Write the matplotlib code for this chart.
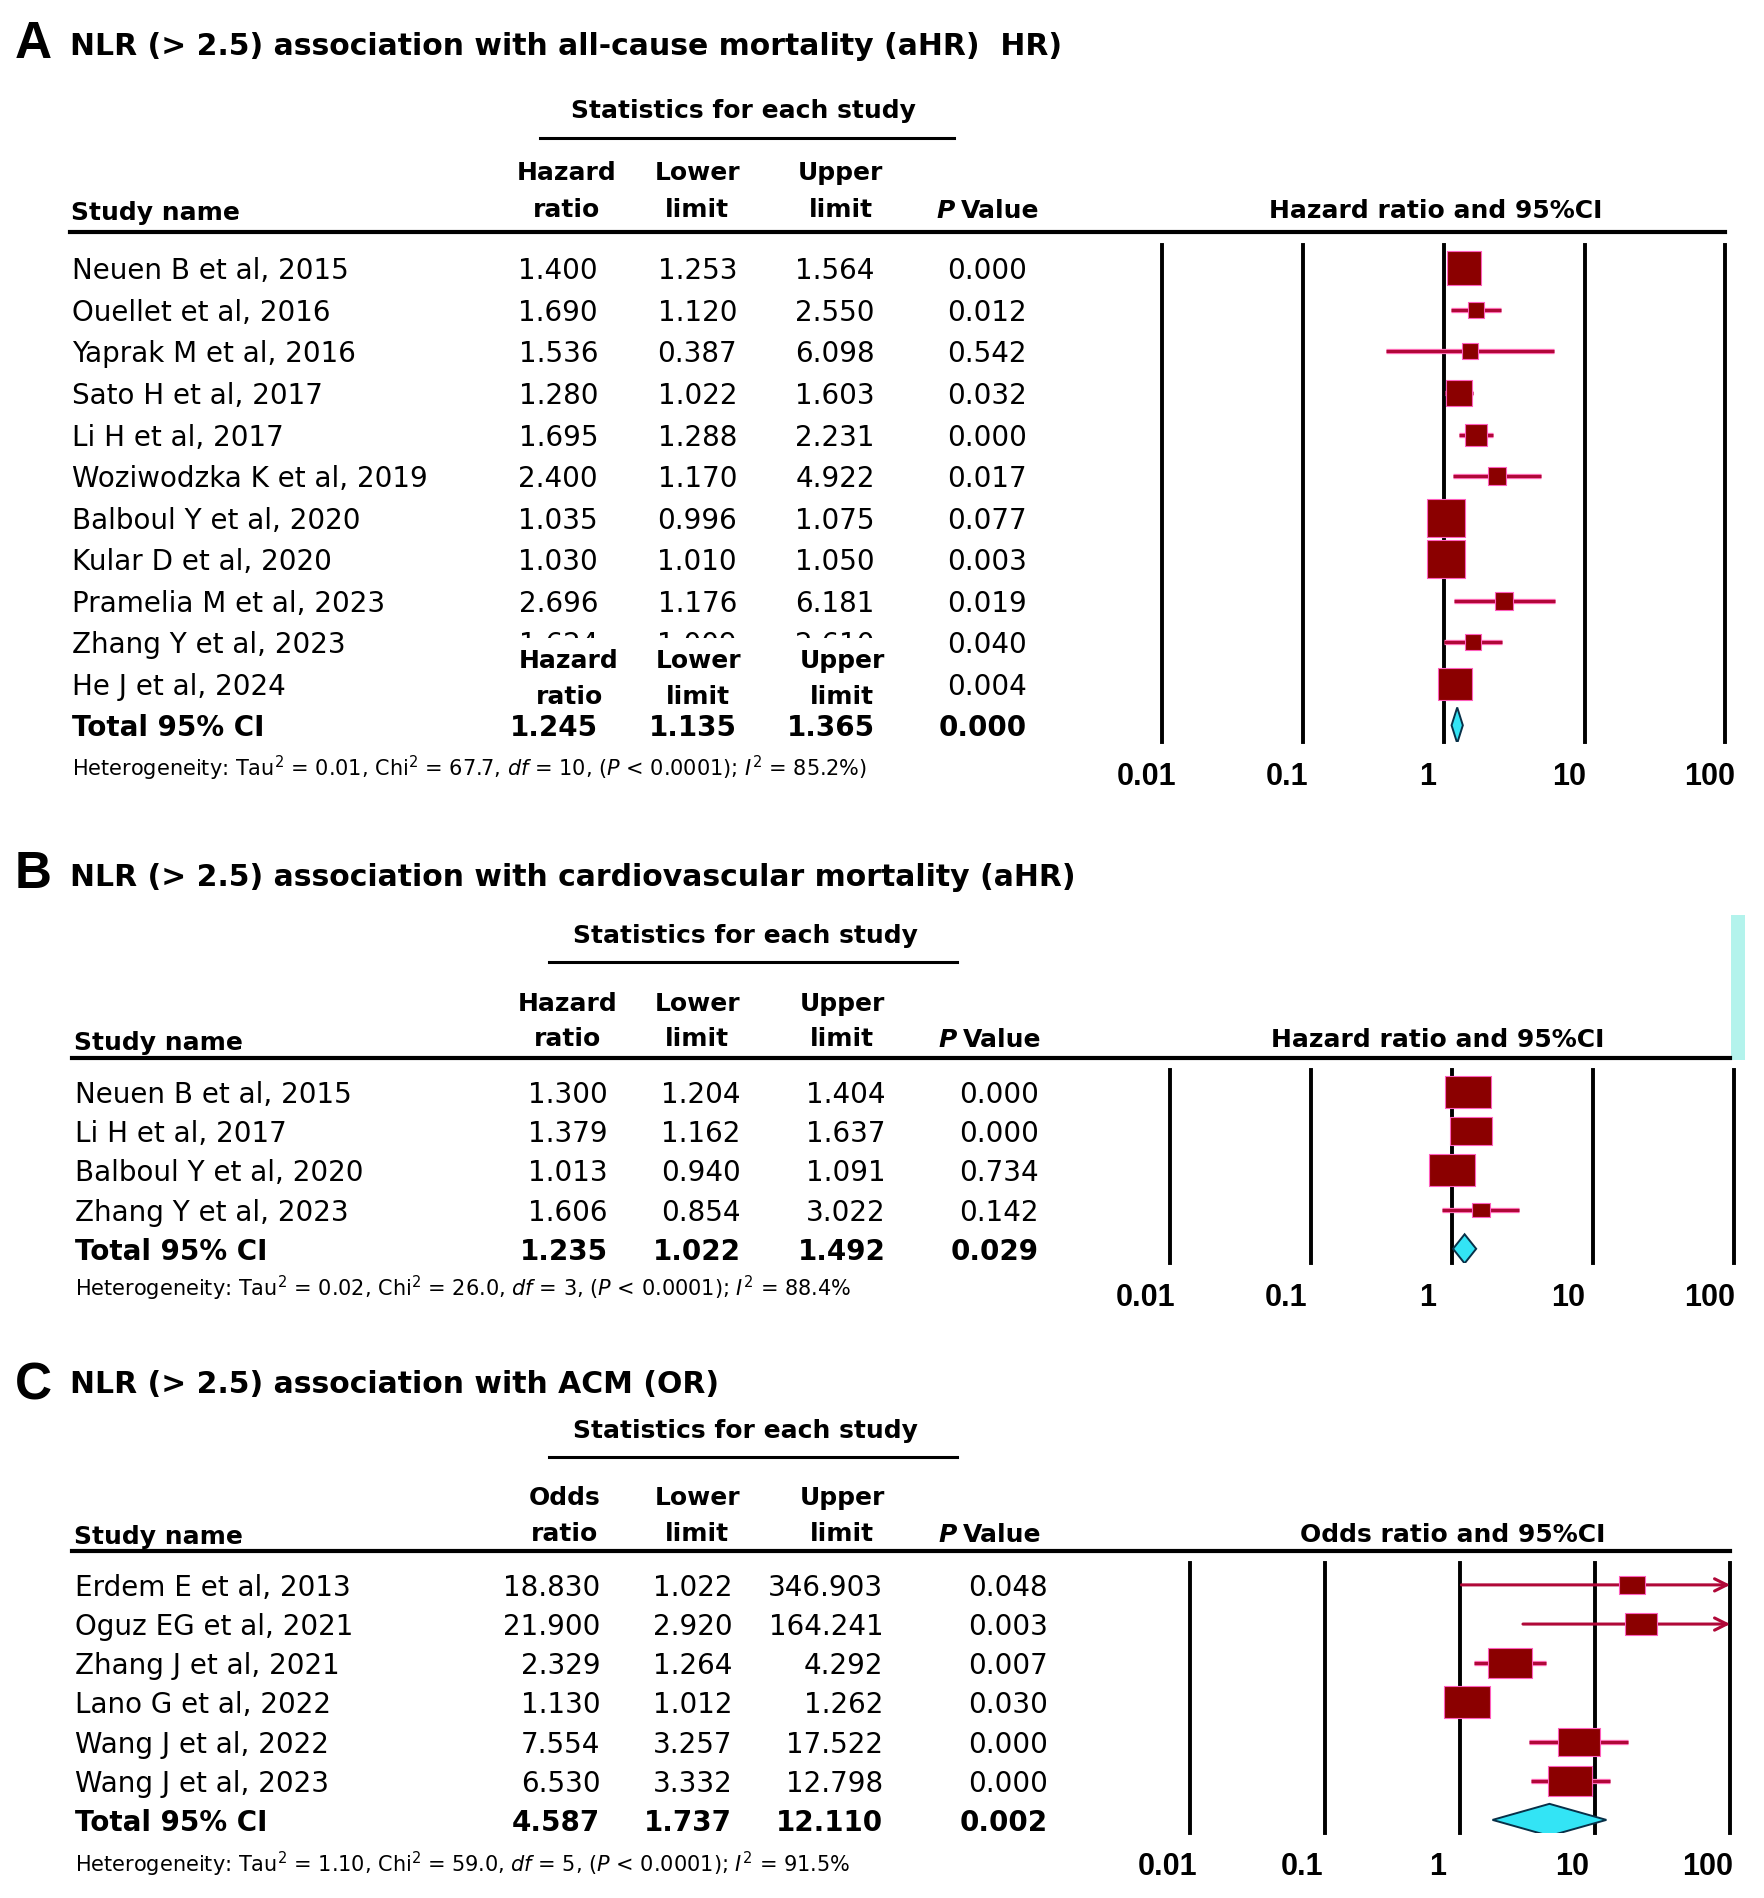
import matplotlib
matplotlib.use("Agg")
import matplotlib.pyplot as plt
import matplotlib.patheffects as pe
from matplotlib.patches import Polygon, Rectangle
from matplotlib.transforms import ScaledTranslation

plt.rcParams['font.family'] = ['DejaVu Sans']
plt.rcParams['mathtext.fontset'] = 'dejavusans'

# -----------------------------
# Data
# -----------------------------
a_names = ["Neuen B et al, 2015", "Ouellet et al, 2016", "Yaprak M et al, 2016",
           "Sato H et al, 2017", "Li H et al, 2017", "Woziwodzka K et al, 2019",
           "Balboul Y et al, 2020", "Kular D et al, 2020", "Pramelia M et al, 2023",
           "Zhang Y et al, 2023", "He J et al, 2024"]
a_est = [1.400, 1.690, 1.536, 1.280, 1.695, 2.400, 1.035, 1.030, 2.696, 1.624, 1.210]
a_low = [1.253, 1.120, 0.387, 1.022, 1.288, 1.170, 0.996, 1.010, 1.176, 1.009, 1.063]
a_up = [1.564, 2.550, 6.098, 1.603, 2.231, 4.922, 1.075, 1.050, 6.181, 2.610, 1.378]
a_p = ["0.000", "0.012", "0.542", "0.032", "0.000", "0.017", "0.077", "0.003",
       "0.019", "0.040", "0.004"]
a_total = [1.245, 1.135, 1.365]
a_total_p = "0.000"

b_names = ["Neuen B et al, 2015", "Li H et al, 2017", "Balboul Y et al, 2020",
           "Zhang Y et al, 2023"]
b_est = [1.300, 1.379, 1.013, 1.606]
b_low = [1.204, 1.162, 0.940, 0.854]
b_up = [1.404, 1.637, 1.091, 3.022]
b_p = ["0.000", "0.000", "0.734", "0.142"]
b_total = [1.235, 1.022, 1.492]
b_total_p = "0.029"

c_names = ["Erdem E et al, 2013", "Oguz EG et al, 2021", "Zhang J et al, 2021",
           "Lano G et al, 2022", "Wang J et al, 2022", "Wang J et al, 2023"]
c_est = [18.830, 21.900, 2.329, 1.130, 7.554, 6.530]
c_low = [1.022, 2.920, 1.264, 1.012, 3.257, 3.332]
c_up = [346.903, 164.241, 4.292, 1.262, 17.522, 12.798]
c_p = ["0.048", "0.003", "0.007", "0.030", "0.000", "0.000"]
c_total = [4.587, 1.737, 12.110]
c_total_p = "0.002"

axis_ticks = [0.01, 0.1, 1, 10, 100]
axis_labels = ["0.01", "0.1", "1", "10", "100"]

# box sizes in pixels (width), style only
a_box = [35, 17, 17, 27, 23, 18, 39, 39, 18, 17, 34]
b_box = [46, 42, 47, 19]
c_box = [27, 33, 44, 47, 42, 44]

# -----------------------------
# Figure / layout helpers (layout in reference px 1460 x 1570)
# -----------------------------
W, H = 1460.0, 1570.0
fig = plt.figure(figsize=(17.64, 18.98), dpi=100)
bg = fig.add_axes([0, 0, 1, 1])
bg.set_xlim(0, W)
bg.set_ylim(H, 0)
bg.axis("off")

BOX_FC = "#8b0000"
BOX_EC = "#ff5fbf"
CI_C = "#b00838"
DIA_FC = "#33e4f5"
DIA_EC = "#083048"


def txt(x, y, s, **kw):
    kw.setdefault("va", "center")
    kw.setdefault("fontsize", 20)
    return bg.text(x, y + 2.5, s, **kw)


def rect_marker(aspect):
    return [(-aspect, -1), (aspect, -1), (aspect, 1), (-aspect, 1), (-aspect, -1)]


def forest(x0, x1, ytop, ybot, row0, step, est, low, up, total, box, aspect, dia_h, tick_dx):
    ax = fig.add_axes([x0 / W, 1 - ybot / H, (x1 - x0) / W, (ybot - ytop) / H])
    ax.set_facecolor("none")
    ax.set_xscale("log")
    ax.set_xlim(0.01, 100)
    ax.set_ylim((ybot - row0) / step, (ytop - row0) / step)
    for s in ax.spines.values():
        s.set_visible(False)
    ax.set_yticks([])
    for v in axis_ticks:
        ax.axvline(v, color="black", lw=2.8, clip_on=False, zorder=1)
    ax.set_xticks(axis_ticks, axis_labels)
    ax.minorticks_off()
    ax.tick_params(axis="x", length=0, pad=14)
    off = ScaledTranslation(tick_dx * 1.208 / 100, 0, fig.dpi_scale_trans)
    for lab in ax.get_xticklabels():
        lab.set_fontfamily("Liberation Sans")
        lab.set_fontweight("bold")
        lab.set_fontsize(22)
        lab.set_transform(lab.get_transform() + off)
    stroke = [pe.withStroke(linewidth=3.8, foreground="#ff6fb8")]
    for i in range(len(est)):
        hi = min(up[i], 100)
        if up[i] > 100:
            ax.annotate("", xy=(100, i), xytext=(low[i], i), annotation_clip=False,
                        arrowprops=dict(arrowstyle="->", color=CI_C, lw=2.2,
                                        mutation_scale=22, shrinkA=0, shrinkB=0),
                        zorder=2)
        else:
            ax.plot([low[i], hi], [i, i], color=CI_C, lw=2.2, zorder=2,
                    path_effects=stroke, solid_capstyle="butt")
        ax.plot(est[i], i, marker=rect_marker(aspect), ms=box[i] / 1.389,
                mfc=BOX_FC, mec=BOX_EC, mew=0.8, zorder=3, linestyle="none")
    n = len(est)
    t_est, t_low, t_up = total
    ax.add_patch(Polygon([(t_low, n), (t_est, n - dia_h), (t_up, n), (t_est, n + dia_h)],
                         closed=True, fc=DIA_FC, ec=DIA_EC, lw=1.4, zorder=3))
    return ax


def table(letter, title, ly, ty, stat_y, ul_y, ul_x, hdr_y1, hdr_y2, name_x, line_x,
          line_y, first_word, col_x, p_x, ci_title, ci_x, names, est, low, up, p,
          total, total_p, row0, step, right, het, het_y):
    txt(12, ly, letter, fontsize=37, fontweight="bold", family="Liberation Sans")
    txt(58, ty, title, fontsize=21.5, fontweight="bold")
    txt(stat_y[0], stat_y[1], "Statistics for each study", fontsize=18,
        fontweight="bold", ha="center")
    bg.plot(ul_x, [ul_y, ul_y], color="black", lw=2.2)
    for cx, w1, w2 in zip(col_x, [first_word, "Lower", "Upper"],
                          ["ratio", "limit", "limit"]):
        txt(cx, hdr_y1, w1, fontsize=18, fontweight="bold", ha="center")
        txt(cx, hdr_y2, w2, fontsize=18, fontweight="bold", ha="center")
    txt(p_x, hdr_y2 + 1, "P", fontsize=18, fontweight="bold", style="italic")
    txt(p_x + 20, hdr_y2 + 1, "Value", fontsize=18, fontweight="bold")
    txt(name_x, hdr_y2 + 3, "Study name", fontsize=18, fontweight="bold")
    txt(ci_x, hdr_y2 + 1, ci_title, fontsize=18, fontweight="bold", ha="center")
    bg.plot(line_x, [line_y, line_y], color="black", lw=3.0)
    for i in range(len(names)):
        y = row0 + i * step
        txt(name_x + 1, y, names[i])
        for rx, v in zip(right[:3], [est[i], low[i], up[i]]):
            txt(rx, y, f"{v:.3f}", ha="right")
        txt(right[3], y, p[i], ha="right")
    y = row0 + len(names) * step
    txt(name_x + 1, y, "Total 95% CI", fontweight="bold")
    for rx, v in zip(right[:3], total):
        txt(rx, y, f"{v:.3f}", ha="right", fontweight="bold")
    txt(right[3], y, total_p, ha="right", fontweight="bold")
    txt(name_x + 1, het_y, het, fontsize=15)


# -----------------------------
# Panel A
# -----------------------------
table("A", "NLR (> 2.5) association with all-cause mortality (aHR)  HR)", 34, 36,
      (615, 89), 114, [447, 790], 141, 171, 59, [58, 1428], 192, "Hazard",
      [469, 577, 696], 775, "Hazard ratio and 95%CI", 1188,
      a_names, a_est, a_low, a_up, a_p, a_total, a_total_p, 222, 34.36,
      [495, 610, 724, 850],
      r"Heterogeneity: Tau$^2$ = 0.01, Chi$^2$ = 67.7, $df$ = 10, ($P$ < 0.0001); $I^2$ = 85.2%)",
      633)
# leftover header block pasted over the last rows
bg.add_patch(Rectangle((415, 528), 330, 61, fc="white", ec="none", zorder=5))
for cx, w1, w2 in zip([471, 578, 697], ["Hazard", "Lower", "Upper"],
                      ["ratio", "limit", "limit"]):
    txt(cx, 544, w1, fontsize=18, fontweight="bold", ha="center", zorder=6)
    txt(cx, 574, w2, fontsize=18, fontweight="bold", ha="center", zorder=6)
forest(962, 1428, 203, 614, 222, 34.36, a_est, a_low, a_up, a_total, a_box, 1.05, 0.43, -13)

# -----------------------------
# Panel B
# -----------------------------
table("B", "NLR (> 2.5) association with cardiovascular mortality (aHR)", 721, 723,
      (617, 772), 796, [454, 792], 828, 857, 61, [60, 1432], 875, "Hazard",
      [470, 577, 697], 777, "Hazard ratio and 95%CI", 1190,
      b_names, b_est, b_low, b_up, b_p, b_total, b_total_p, 903, 32.5,
      [503, 613, 733, 860],
      r"Heterogeneity: Tau$^2$ = 0.02, Chi$^2$ = 26.0, $df$ = 3, ($P$ < 0.0001); $I^2$ = 88.4%",
      1063)
bg.add_patch(Rectangle((1433, 757), 11, 120, fc="#b3f3ec", ec="none"))
forest(968, 1435, 885, 1045, 903, 32.5, b_est, b_low, b_up, b_total, b_box, 1.45, 0.37, -20)

# -----------------------------
# Panel C
# -----------------------------
table("C", "NLR (> 2.5) association with ACM (OR)", 1144, 1143,
      (617, 1181), 1205, [454, 792], 1237, 1266, 61, [60, 1432], 1283, "Odds",
      [467, 577, 697], 777, "Odds ratio and 95%CI", 1202,
      c_names, c_est, c_low, c_up, c_p, c_total, c_total_p, 1311, 32.4,
      [497, 606, 731, 867],
      r"Heterogeneity: Tau$^2$ = 1.10, Chi$^2$ = 59.0, $df$ = 5, ($P$ < 0.0001); $I^2$ = 91.5%",
      1540)
forest(985, 1432, 1293, 1516, 1311, 32.4, c_est, c_low, c_up, c_total, c_box, 1.5, 0.41, -19)

fig.savefig("out.png", dpi=100)
